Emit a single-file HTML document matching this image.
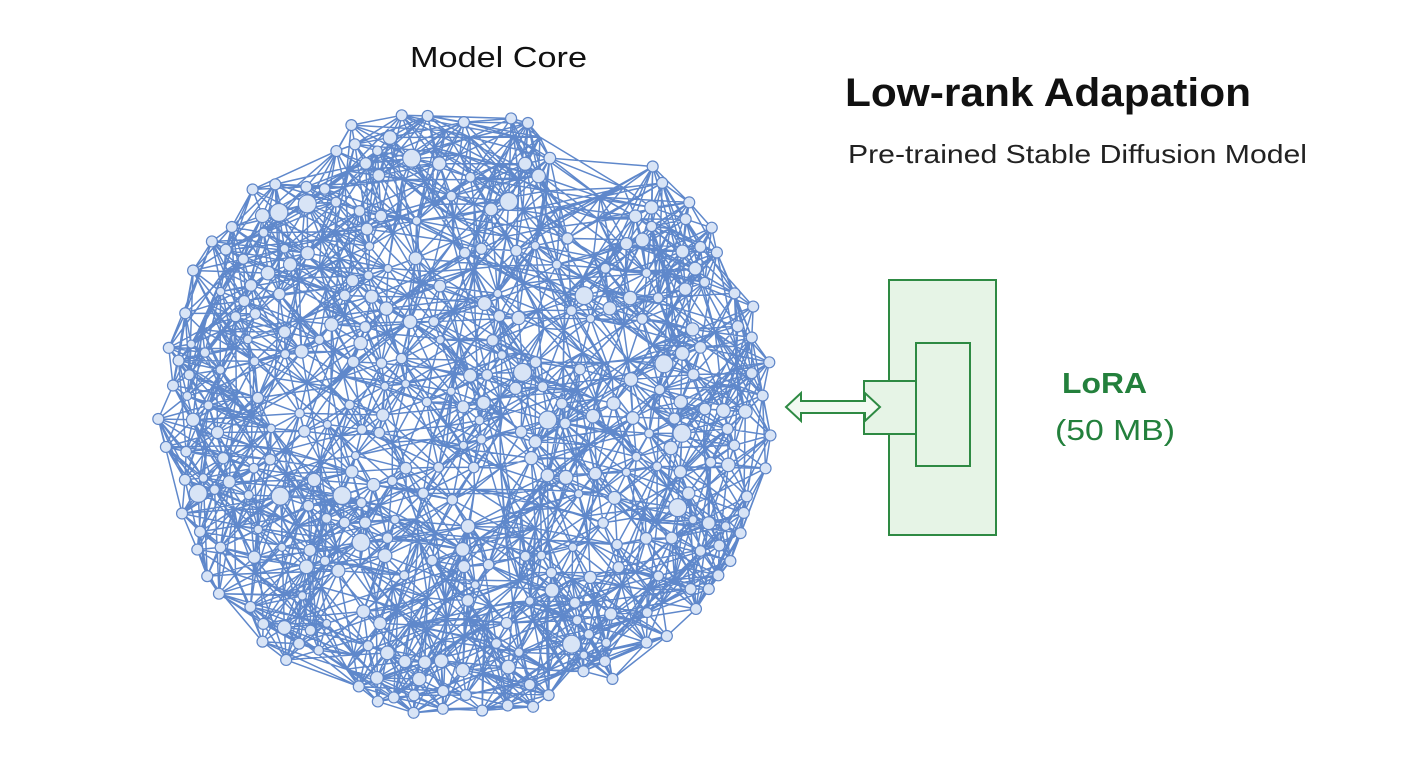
<!DOCTYPE html>
<html><head><meta charset="utf-8"><style>
body{margin:0;background:#fff;width:1408px;height:768px;overflow:hidden;font-family:"Liberation Sans","DejaVu Sans",sans-serif}
</style></head><body>
<svg id="s" width="1408" height="768" viewBox="0 0 1408 768" xmlns="http://www.w3.org/2000/svg">
<g id="edges" stroke="#5f88cb" stroke-width="1.5" fill="none"></g>
<g id="nodes" fill="#d8e4f6" stroke="#5f86c8" stroke-width="1.2"></g>
<text x="410" y="67" font-size="29" textLength="177" lengthAdjust="spacingAndGlyphs" fill="#111">Model Core</text>
<text x="845" y="106" font-size="40" font-weight="bold" textLength="406" lengthAdjust="spacingAndGlyphs" fill="#111">Low-rank Adapation</text>
<text x="848" y="163" font-size="26" textLength="459" lengthAdjust="spacingAndGlyphs" fill="#222">Pre-trained Stable Diffusion Model</text>
<g stroke="#2e8a43" stroke-width="2" fill="#e6f4e6">
<rect x="889" y="280" width="107" height="255"/>
<rect x="864" y="381" width="52" height="53"/>
<rect x="916" y="343" width="54" height="123"/>
<path d="M786 407 L801 393 L801 401 L865 401 L865 393 L880 407 L865 421 L865 413 L801 413 L801 421 Z" fill="#f2faf2"/>
</g>
<text x="1062" y="393" font-size="29" font-weight="bold" textLength="85" lengthAdjust="spacingAndGlyphs" fill="#23803c">LoRA</text>
<text x="1055" y="440" font-size="29" textLength="120" lengthAdjust="spacingAndGlyphs" fill="#23803c">(50 MB)</text>
</svg>
<script>
(function(){
var seed=7;function r(){seed=(seed*16807)%2147483647;return (seed-1)/2147483646;}
var cx=465,cy=410,R=308,pts=[];
function inside(x,y){var dx=(x-cx)/R,dy=(y-cy)/R;if(dx*dx+dy*dy>1)return false;
 if(x>560&&x<650&&y<200-(x-560)*0.3)return false; if(x>640&&y<165)return false; return true;}
var tries=0;while(pts.length<520&&tries<30000){tries++;var x=cx-R+r()*2*R,y=cy-R+r()*2*R;if(!inside(x,y))continue;
 var ok=true;for(var i=0;i<pts.length;i++){var a=pts[i][0]-x,b=pts[i][1]-y;if(a*a+b*b<16*16){ok=false;break;}}if(ok)pts.push([x,y]);}
var E=document.getElementById('edges'),N=document.getElementById('nodes'),ns='http://www.w3.org/2000/svg',d='';
for(var i=0;i<pts.length;i++){var ds=[];for(var j=0;j<pts.length;j++){if(j==i)continue;var a=pts[j][0]-pts[i][0],b=pts[j][1]-pts[i][1];ds.push([a*a+b*b,j]);}
 ds.sort(function(p,q){return p[0]-q[0]});
 for(var k=0;k<8;k++){var j=ds[k][1];if(j>i)d+='M'+pts[i][0].toFixed(1)+' '+pts[i][1].toFixed(1)+'L'+pts[j][0].toFixed(1)+' '+pts[j][1].toFixed(1);}
 for(var k=0;k<4;k++){var j=ds[8+Math.floor(r()*30)][1];d+='M'+pts[i][0].toFixed(1)+' '+pts[i][1].toFixed(1)+'L'+pts[j][0].toFixed(1)+' '+pts[j][1].toFixed(1);}
}
var p=document.createElementNS(ns,'path');p.setAttribute('d',d);E.appendChild(p);
for(var i=0;i<pts.length;i++){var dx=pts[i][0]-cx,dy=pts[i][1]-cy;var edge=Math.sqrt(dx*dx+dy*dy)>R-22;
 if(!edge&&r()<0.45)continue;var c=document.createElementNS(ns,'circle');c.setAttribute('cx',pts[i][0]);c.setAttribute('cy',pts[i][1]);
 c.setAttribute('r',edge?5.5:(r()<0.05?9:4+r()*3));N.appendChild(c);}
})();
</script>
</body></html>
